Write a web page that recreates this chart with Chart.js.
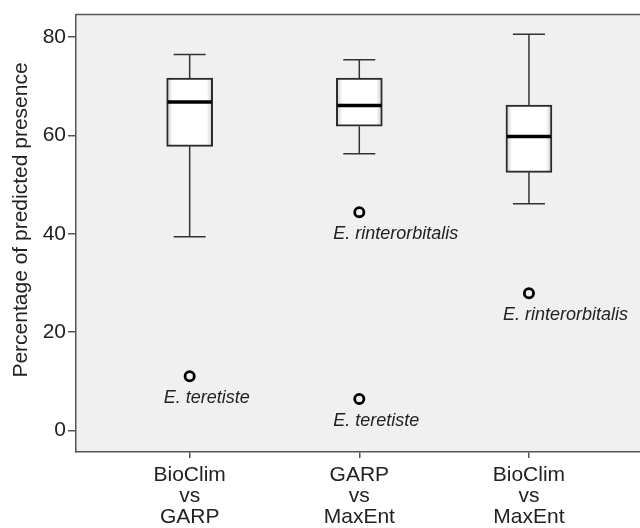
<!DOCTYPE html>
<html>
<head>
<meta charset="utf-8">
<script src="https://cdn.jsdelivr.net/npm/chart.js@4.4.0/dist/chart.umd.min.js"></script>
<style>
  html, body { margin: 0; padding: 0; background: #fff; overflow: hidden; }
  #wrap { width: 650px; height: 528px; }
</style>
</head>
<body>
<div id="wrap"><canvas id="boxChart"></canvas></div>
<script>
// Box plot data
const categories = [['BioClim', 'vs', 'GARP'], ['GARP', 'vs', 'MaxEnt'], ['BioClim', 'vs', 'MaxEnt']];
const whiskerLow = [39.4, 56.3, 46.1];
const q1 = [57.8, 61.9, 52.5];
const median = [66.8, 66.1, 59.8];
const q3 = [71.7, 71.7, 66.2];
const whiskerHigh = [76.5, 75.4, 80.6];

// Outliers (group index 1..3)
const outlierGroup = [1, 2, 2, 3];
const outlierValue = [11.0, 6.4, 44.4, 27.9];
const outlierLabel = ['E. teretiste', 'E. teretiste', 'E. rinterorbitalis', 'E. rinterorbitalis'];

const yTicks = [0, 20, 40, 60, 80];
const yTitle = 'Percentage of predicted presence';

const FONT = '"Liberation Sans", Arial, sans-serif';
const AXIS = '#555';
const BOX_HALF = 23;
const CAP_HALF = 16;

const boxData = categories.map((c, i) => ({ x: i + 1, y: [q1[i], q3[i]] }));
const outlierData = outlierGroup.map((g, i) => ({ x: g, y: outlierValue[i] }));

function boxFill(ctx) {
    const chart = ctx.chart;
    if (!chart.chartArea || !ctx.raw) return '#fff';
    const cx = chart.scales.x.getPixelForValue(ctx.raw.x);
    const g = chart.ctx.createLinearGradient(cx - BOX_HALF, 0, cx + BOX_HALF, 0);
    g.addColorStop(0, '#ffffff');
    g.addColorStop(0.05, '#dcdcdc');
    g.addColorStop(0.13, '#ffffff');
    g.addColorStop(0.87, '#ffffff');
    g.addColorStop(0.95, '#dcdcdc');
    g.addColorStop(1, '#ffffff');
    return g;
}

// background, frame, whiskers, medians, labels
const boxPlugin = {
    id: 'boxPlugin',
    beforeDraw(chart) {
        const { ctx, chartArea: a } = chart;
        ctx.save();
        ctx.fillStyle = '#f0f0f0';
        ctx.fillRect(a.left, a.top, a.right - a.left, a.bottom - a.top);
        ctx.strokeStyle = AXIS;
        ctx.lineWidth = 1.5;
        ctx.beginPath();
        ctx.moveTo(a.left, a.top);
        ctx.lineTo(a.right, a.top);
        ctx.stroke();
        ctx.restore();
    },
    beforeDatasetsDraw(chart) {
        const { ctx, scales: { x, y } } = chart;
        ctx.save();
        ctx.strokeStyle = '#333';
        ctx.lineWidth = 1.5;
        categories.forEach((c, i) => {
            const cx = x.getPixelForValue(i + 1);
            ctx.beginPath();
            ctx.moveTo(cx, y.getPixelForValue(whiskerHigh[i]));
            ctx.lineTo(cx, y.getPixelForValue(q3[i]));
            ctx.moveTo(cx, y.getPixelForValue(q1[i]));
            ctx.lineTo(cx, y.getPixelForValue(whiskerLow[i]));
            ctx.moveTo(cx - CAP_HALF, y.getPixelForValue(whiskerHigh[i]));
            ctx.lineTo(cx + CAP_HALF, y.getPixelForValue(whiskerHigh[i]));
            ctx.moveTo(cx - CAP_HALF, y.getPixelForValue(whiskerLow[i]));
            ctx.lineTo(cx + CAP_HALF, y.getPixelForValue(whiskerLow[i]));
            ctx.stroke();
        });
        ctx.restore();
    },
    afterDatasetsDraw(chart) {
        const { ctx, scales: { x, y } } = chart;
        ctx.save();
        ctx.strokeStyle = '#000';
        ctx.lineWidth = 3.5;
        categories.forEach((c, i) => {
            const cx = x.getPixelForValue(i + 1);
            const my = y.getPixelForValue(median[i]);
            ctx.beginPath();
            ctx.moveTo(cx - BOX_HALF + 1, my);
            ctx.lineTo(cx + BOX_HALF - 1, my);
            ctx.stroke();
        });
        // outlier labels
        ctx.fillStyle = '#222';
        ctx.font = 'italic 18px ' + FONT;
        ctx.textAlign = 'left';
        ctx.textBaseline = 'alphabetic';
        outlierLabel.forEach((t, i) => {
            const px = x.getPixelForValue(outlierGroup[i]);
            const py = y.getPixelForValue(outlierValue[i]);
            ctx.fillText(t, px - 26, py + 27);
        });
        // y axis title
        ctx.fillStyle = '#222';
        ctx.font = '21px ' + FONT;
        ctx.textAlign = 'center';
        ctx.textBaseline = 'middle';
        ctx.translate(21, 220);
        ctx.rotate(-Math.PI / 2);
        ctx.fillText(yTitle, 0, 0);
        ctx.restore();
    }
};

const ctx = document.getElementById('boxChart').getContext('2d');
const boxChart = new Chart(ctx, {
    type: 'bar',
    data: {
        datasets: [{
            type: 'bar',
            data: boxData,
            backgroundColor: boxFill,
            borderColor: '#2a2a2a',
            borderWidth: 2,
            borderSkipped: false,
            barThickness: BOX_HALF * 2,
            order: 2
        }, {
            type: 'scatter',
            data: outlierData,
            pointStyle: 'circle',
            pointRadius: 4.6,
            pointBorderWidth: 2.8,
            pointBorderColor: '#000',
            pointBackgroundColor: 'rgba(0,0,0,0)',
            order: 1
        }]
    },
    options: {
        responsive: true,
        maintainAspectRatio: false,
        animation: false,
        layout: { padding: { top: 9, right: 6, left: 0, bottom: 0 } },
        plugins: { legend: { display: false }, tooltip: { enabled: false } },
        scales: {
            x: {
                type: 'linear',
                offset: false,
                min: 0.33,
                max: 3.67,
                afterBuildTicks(axis) { axis.ticks = [1, 2, 3].map(v => ({ value: v })); },
                afterFit(axis) { axis.height = 76; },
                ticks: {
                    autoSkip: false,
                    maxRotation: 0,
                    padding: 7,
                    color: '#222',
                    font: { family: FONT, size: 21, lineHeight: 1.0 },
                    callback: v => categories[v - 1]
                },
                grid: { offset: false, drawOnChartArea: false, drawTicks: true, tickLength: 6, color: AXIS, lineWidth: 1.5 },
                border: { display: true, color: AXIS, width: 1.5 }
            },
            y: {
                type: 'linear',
                min: -4.4,
                max: 84.6,
                afterBuildTicks(axis) { axis.ticks = yTicks.map(v => ({ value: v })); },
                afterFit(axis) { axis.width = 76; },
                ticks: {
                    padding: 2,
                    color: '#222',
                    font: { family: FONT, size: 21 }
                },
                grid: { drawOnChartArea: false, drawTicks: true, tickLength: 8, color: AXIS, lineWidth: 1.5 },
                border: { display: true, color: AXIS, width: 1.5 }
            }
        }
    },
    plugins: [boxPlugin]
});
</script>
</body>
</html>
